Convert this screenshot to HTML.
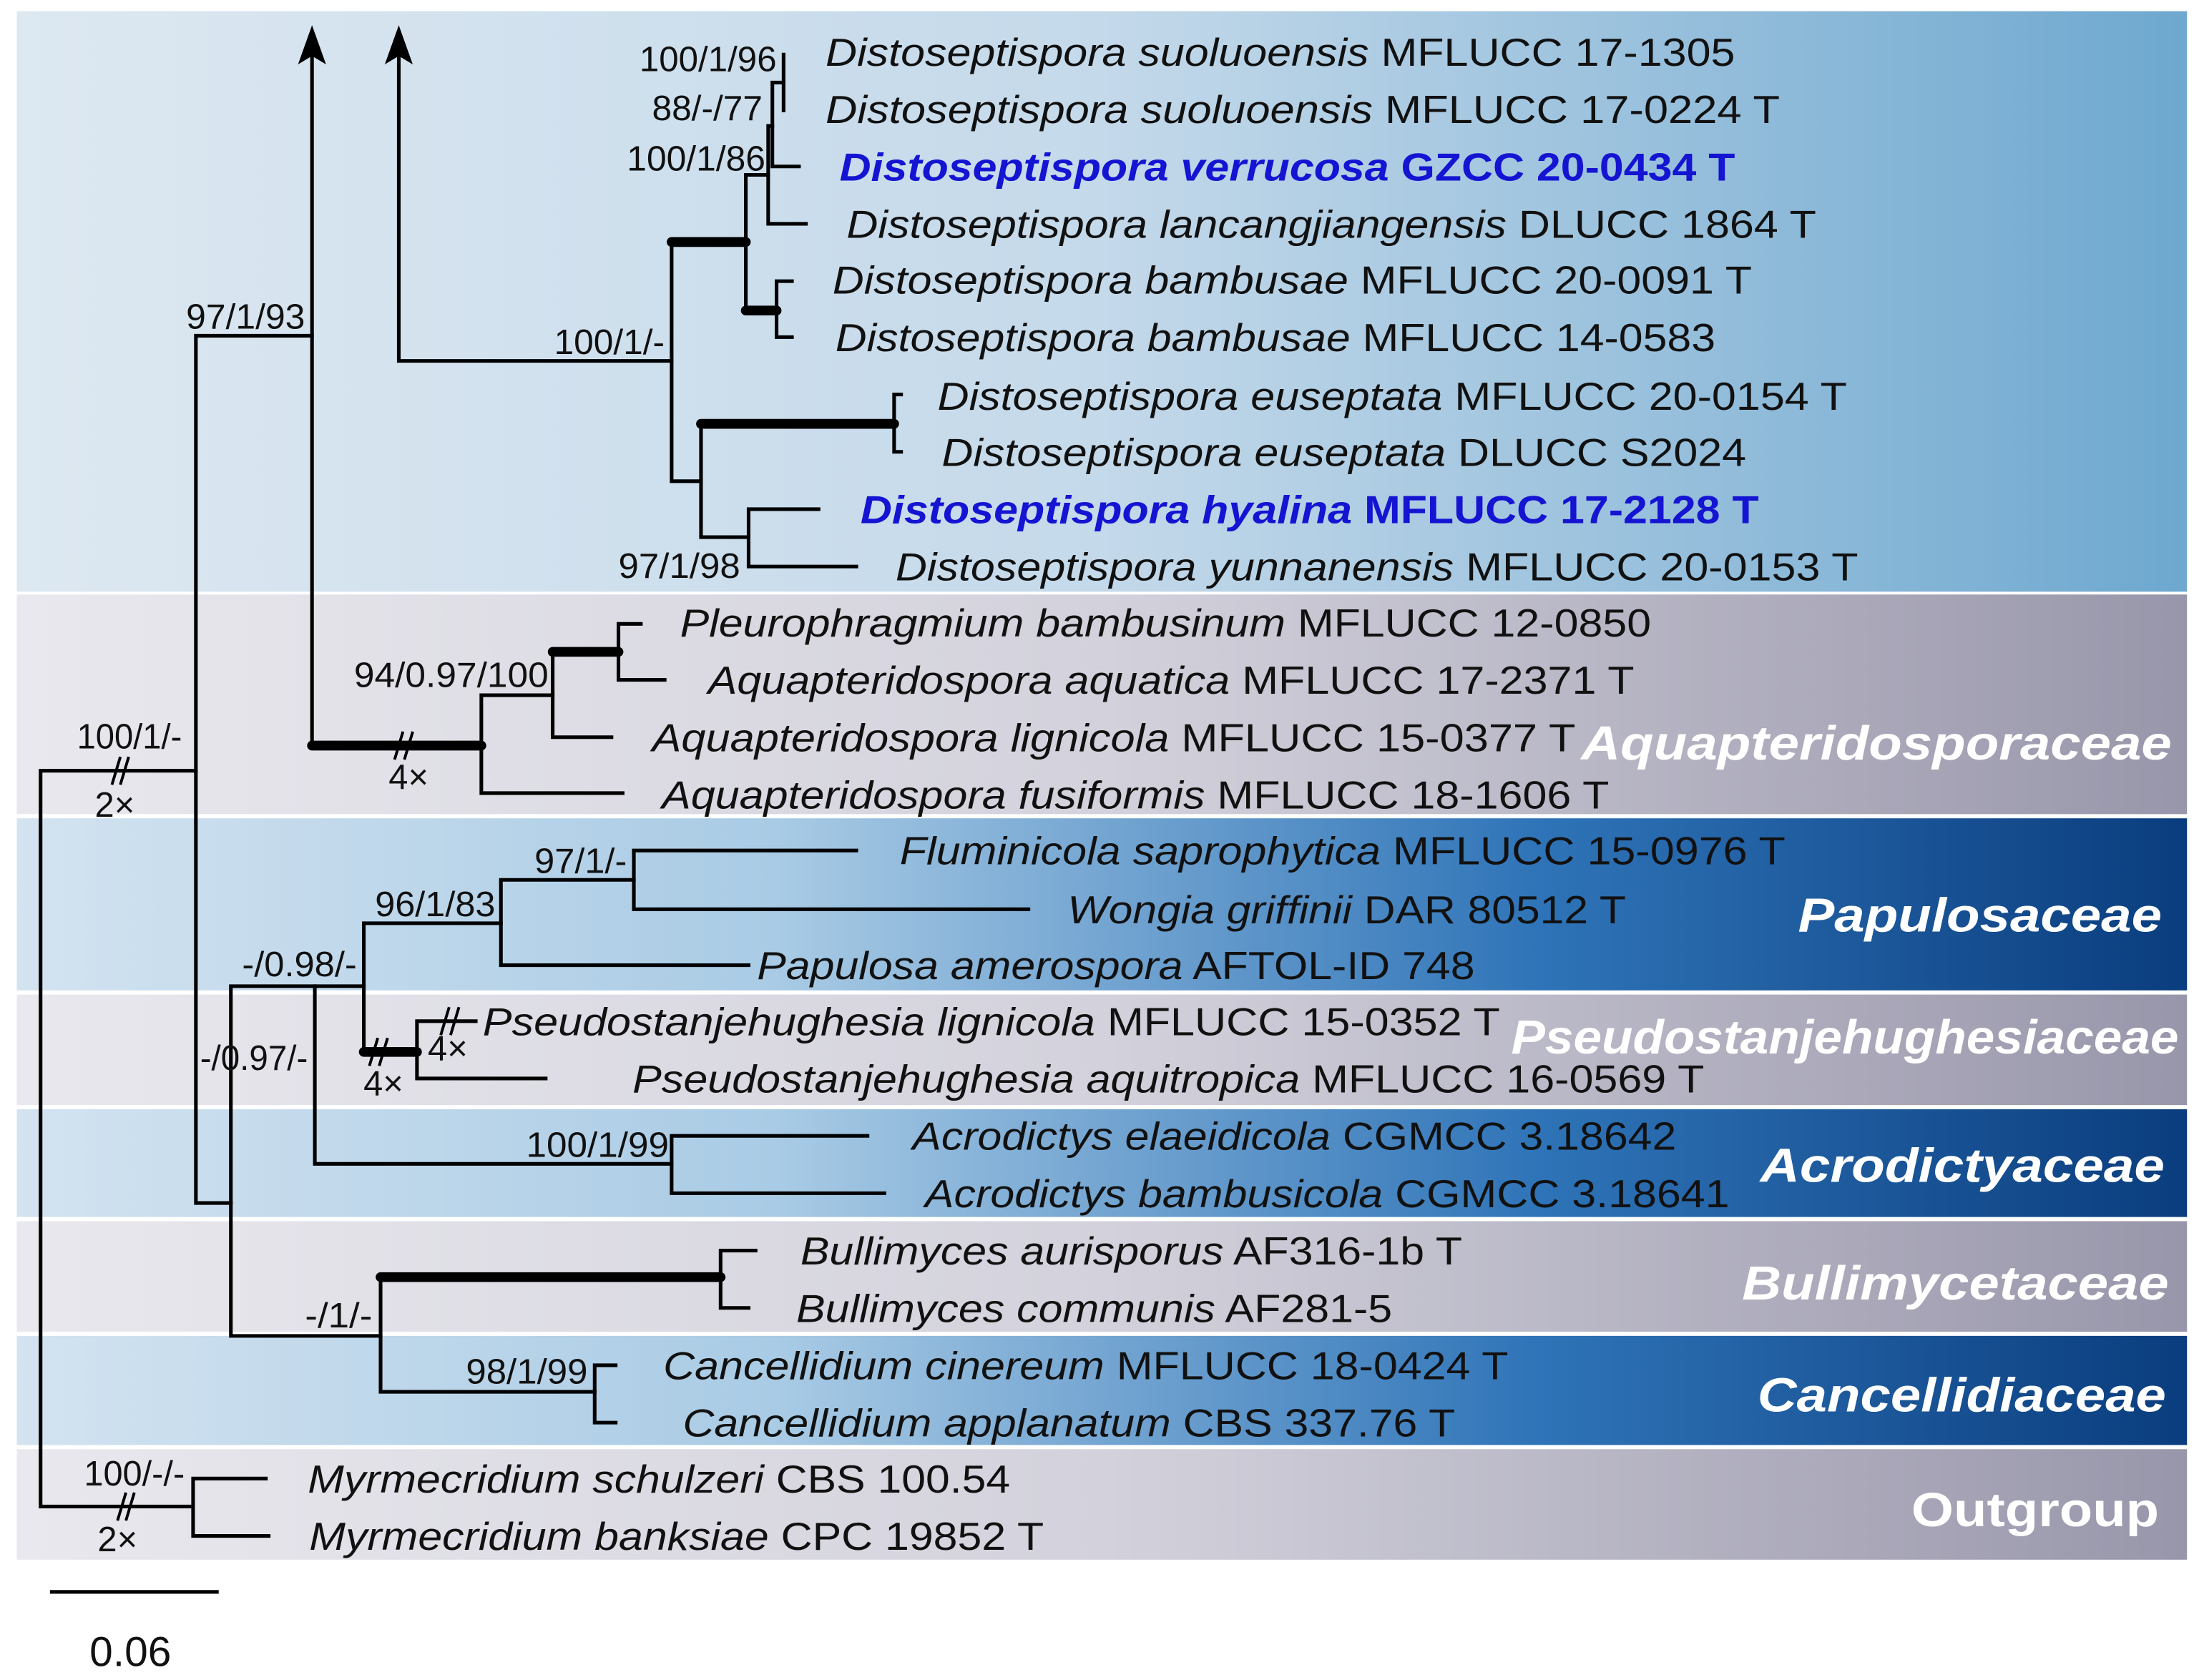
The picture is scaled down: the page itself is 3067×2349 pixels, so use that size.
<!DOCTYPE html>
<html><head><meta charset="utf-8"><style>
html,body{margin:0;padding:0;background:#fff;}
svg{display:block;}
text{font-family:"Liberation Sans",Arial,sans-serif;}
</style></head><body>
<svg width="3067" height="2349" viewBox="0 0 1568 1201" preserveAspectRatio="none" xmlns="http://www.w3.org/2000/svg">
<defs>
<linearGradient id="gL" x1="0" x2="1" y1="0" y2="0"><stop offset="0" stop-color="#dde8f1"/><stop offset="0.5" stop-color="#c4d9ea"/><stop offset="1" stop-color="#6ea8cf"/></linearGradient>
<linearGradient id="gG" x1="0" x2="1" y1="0" y2="0"><stop offset="0" stop-color="#e9e8ee"/><stop offset="0.5" stop-color="#d3d2dc"/><stop offset="1" stop-color="#9896aa"/></linearGradient>
<linearGradient id="gB" x1="0" x2="1" y1="0" y2="0"><stop offset="0" stop-color="#d3e3f0"/><stop offset="0.35" stop-color="#a9cbe5"/><stop offset="0.7" stop-color="#2f74b8"/><stop offset="1" stop-color="#0a3d7e"/></linearGradient>
</defs>
<rect x="12" y="8" width="1551" height="415" fill="url(#gL)"/>
<rect x="12" y="425" width="1551" height="157" fill="url(#gG)"/>
<rect x="12" y="585" width="1551" height="123" fill="url(#gB)"/>
<rect x="12" y="711" width="1551" height="79" fill="url(#gG)"/>
<rect x="12" y="793" width="1551" height="77" fill="url(#gB)"/>
<rect x="12" y="873" width="1551" height="79" fill="url(#gG)"/>
<rect x="12" y="955" width="1551" height="78" fill="url(#gB)"/>
<rect x="12" y="1036" width="1551" height="79" fill="url(#gG)"/>

<g stroke="#000" stroke-width="2.6" fill="none" stroke-linecap="square">
<path d="M29 551V1077M29 551H140M29 1077H138"/>
<path d="M138 1057V1098M138 1057H190M138 1098H192"/>
<path d="M140 240V860M140 240H223M140 860H165"/>
<path d="M223 533V34"/>
<path d="M344 497V567M344 497H395M344 567H445"/>
<path d="M395 466V527M395 527H437"/>
<path d="M442 446V486M442 446H458M442 486H475"/>
<path d="M285 258V34M285 258H480"/>
<path d="M480 173V344M480 344H501"/>
<path d="M533 125V222M533 125H549"/>
<path d="M549 90V160M549 90H552M549 160H576"/>
<path d="M552 59V119M552 59H560M552 119H571"/>
<path d="M560 39V79"/>
<path d="M555 201V241M555 201H566M555 241H566"/>
<path d="M501 303V384M501 384H535"/>
<path d="M639 282V323M639 282H644M639 323H644"/>
<path d="M535 364V405M535 364H585M535 405H612"/>
<path d="M165 705V955M165 705H225M165 955H272"/>
<path d="M225 705V832M225 705H260M225 832H480"/>
<path d="M480 812V853M480 812H620M480 853H632"/>
<path d="M260 660V752M260 660H358"/>
<path d="M358 629V690M358 629H453M358 690H535"/>
<path d="M453 608V650M453 608H612M453 650H735"/>
<path d="M298 730V771M298 730H340M298 771H390"/>
<path d="M272 913V995M272 995H425"/>
<path d="M515 894V935M515 894H540M515 935H535"/>
<path d="M425 976V1017M425 976H440M425 1017H440"/>
<path d="M37 1138H155"/>
</g>
<g stroke="#000" stroke-width="7" stroke-linecap="round" fill="none">
<path d="M223 533H344"/>
<path d="M395 466H442"/>
<path d="M480 173H533"/>
<path d="M533 222H555"/>
<path d="M501 303H639"/>
<path d="M260 752H298"/>
<path d="M272 913H515"/>
</g>
<path d="M223 18L213 46L223 40L233 46Z" fill="#000"/>
<path d="M285 18L275 46L285 40L295 46Z" fill="#000"/>
<g stroke="#000" stroke-width="2" fill="none">
<path d="M80 561L86 541M86 561L92 541"/>
<path d="M84 1087L90 1067M90 1087L96 1067"/>
<path d="M282 543L288 523M289 543L295 523"/>
<path d="M264 762L270 742M271 762L277 742"/>
<path d="M315 740L321 720M322 740L328 720"/>
</g>

<g font-size="25" fill="#111">
<text x="133" y="235" textLength="85" lengthAdjust="spacingAndGlyphs">97/1/93</text>
<text x="396" y="253" textLength="79" lengthAdjust="spacingAndGlyphs">100/1/-</text>
<text x="457" y="51" textLength="98" lengthAdjust="spacingAndGlyphs">100/1/96</text>
<text x="466" y="86" textLength="79" lengthAdjust="spacingAndGlyphs">88/-/77</text>
<text x="448" y="122" textLength="99" lengthAdjust="spacingAndGlyphs">100/1/86</text>
<text x="442" y="413" textLength="87" lengthAdjust="spacingAndGlyphs">97/1/98</text>
<text x="253" y="491" textLength="139" lengthAdjust="spacingAndGlyphs">94/0.97/100</text>
<text x="55" y="535" textLength="75" lengthAdjust="spacingAndGlyphs">100/1/-</text>
<text x="82" y="584" text-anchor="middle">2×</text>
<text x="292" y="564" text-anchor="middle">4×</text>
<text x="382" y="624" textLength="66" lengthAdjust="spacingAndGlyphs">97/1/-</text>
<text x="268" y="655" textLength="86" lengthAdjust="spacingAndGlyphs">96/1/83</text>
<text x="173" y="698" textLength="82" lengthAdjust="spacingAndGlyphs">-/0.98/-</text>
<text x="143" y="765" textLength="77" lengthAdjust="spacingAndGlyphs">-/0.97/-</text>
<text x="274" y="783" text-anchor="middle">4×</text>
<text x="320" y="758" text-anchor="middle">4×</text>
<text x="376" y="827" textLength="102" lengthAdjust="spacingAndGlyphs">100/1/99</text>
<text x="218" y="949" textLength="48" lengthAdjust="spacingAndGlyphs">-/1/-</text>
<text x="333" y="989" textLength="87" lengthAdjust="spacingAndGlyphs">98/1/99</text>
<text x="60" y="1062" textLength="72" lengthAdjust="spacingAndGlyphs">100/-/-</text>
<text x="84" y="1109" text-anchor="middle">2×</text>
</g>
<text x="64" y="1191" font-size="30" fill="#111">0.06</text>

<g font-size="28" fill="#111">
<text x="590" y="47" textLength="650" lengthAdjust="spacingAndGlyphs"><tspan font-style="italic">Distoseptispora suoluoensis</tspan> MFLUCC 17-1305</text>
<text x="590" y="88" textLength="682" lengthAdjust="spacingAndGlyphs"><tspan font-style="italic">Distoseptispora suoluoensis</tspan> MFLUCC 17-0224 T</text>
<text x="600" y="129" textLength="640" lengthAdjust="spacingAndGlyphs" fill="#1414d2" font-weight="bold"><tspan font-style="italic">Distoseptispora verrucosa</tspan> GZCC 20-0434 T</text>
<text x="605" y="170" textLength="693" lengthAdjust="spacingAndGlyphs"><tspan font-style="italic">Distoseptispora lancangjiangensis</tspan> DLUCC 1864 T</text>
<text x="595" y="210" textLength="657" lengthAdjust="spacingAndGlyphs"><tspan font-style="italic">Distoseptispora bambusae</tspan> MFLUCC 20-0091 T</text>
<text x="597" y="251" textLength="629" lengthAdjust="spacingAndGlyphs"><tspan font-style="italic">Distoseptispora bambusae</tspan> MFLUCC 14-0583</text>
<text x="670" y="293" textLength="650" lengthAdjust="spacingAndGlyphs"><tspan font-style="italic">Distoseptispora euseptata</tspan> MFLUCC 20-0154 T</text>
<text x="673" y="333" textLength="575" lengthAdjust="spacingAndGlyphs"><tspan font-style="italic">Distoseptispora euseptata</tspan> DLUCC S2024</text>
<text x="615" y="374" textLength="642" lengthAdjust="spacingAndGlyphs" fill="#1414d2" font-weight="bold"><tspan font-style="italic">Distoseptispora hyalina</tspan> MFLUCC 17-2128 T</text>
<text x="640" y="415" textLength="688" lengthAdjust="spacingAndGlyphs"><tspan font-style="italic">Distoseptispora yunnanensis</tspan> MFLUCC 20-0153 T</text>
<text x="486" y="455" textLength="694" lengthAdjust="spacingAndGlyphs"><tspan font-style="italic">Pleurophragmium bambusinum</tspan> MFLUCC 12-0850</text>
<text x="506" y="496" textLength="662" lengthAdjust="spacingAndGlyphs"><tspan font-style="italic">Aquapteridospora aquatica</tspan> MFLUCC 17-2371 T</text>
<text x="466" y="537" textLength="660" lengthAdjust="spacingAndGlyphs"><tspan font-style="italic">Aquapteridospora lignicola</tspan> MFLUCC 15-0377 T</text>
<text x="473" y="578" textLength="677" lengthAdjust="spacingAndGlyphs"><tspan font-style="italic">Aquapteridospora fusiformis</tspan> MFLUCC 18-1606 T</text>
<text x="643" y="618" textLength="633" lengthAdjust="spacingAndGlyphs"><tspan font-style="italic">Fluminicola saprophytica</tspan> MFLUCC 15-0976 T</text>
<text x="763" y="660" textLength="399" lengthAdjust="spacingAndGlyphs"><tspan font-style="italic">Wongia griffinii</tspan> DAR 80512 T</text>
<text x="541" y="700" textLength="513" lengthAdjust="spacingAndGlyphs"><tspan font-style="italic">Papulosa amerospora</tspan> AFTOL-ID 748</text>
<text x="345" y="740" textLength="727" lengthAdjust="spacingAndGlyphs"><tspan font-style="italic">Pseudostanjehughesia lignicola</tspan> MFLUCC 15-0352 T</text>
<text x="452" y="781" textLength="766" lengthAdjust="spacingAndGlyphs"><tspan font-style="italic">Pseudostanjehughesia aquitropica</tspan> MFLUCC 16-0569 T</text>
<text x="652" y="822" textLength="546" lengthAdjust="spacingAndGlyphs"><tspan font-style="italic">Acrodictys elaeidicola</tspan> CGMCC 3.18642</text>
<text x="661" y="863" textLength="575" lengthAdjust="spacingAndGlyphs"><tspan font-style="italic">Acrodictys bambusicola</tspan> CGMCC 3.18641</text>
<text x="572" y="904" textLength="473" lengthAdjust="spacingAndGlyphs"><tspan font-style="italic">Bullimyces aurisporus</tspan> AF316-1b T</text>
<text x="569" y="945" textLength="426" lengthAdjust="spacingAndGlyphs"><tspan font-style="italic">Bullimyces communis</tspan> AF281-5</text>
<text x="474" y="986" textLength="604" lengthAdjust="spacingAndGlyphs"><tspan font-style="italic">Cancellidium cinereum</tspan> MFLUCC 18-0424 T</text>
<text x="488" y="1027" textLength="552" lengthAdjust="spacingAndGlyphs"><tspan font-style="italic">Cancellidium applanatum</tspan> CBS 337.76 T</text>
<text x="220" y="1067" textLength="502" lengthAdjust="spacingAndGlyphs"><tspan font-style="italic">Myrmecridium schulzeri</tspan> CBS 100.54</text>
<text x="221" y="1108" textLength="525" lengthAdjust="spacingAndGlyphs"><tspan font-style="italic">Myrmecridium banksiae</tspan> CPC 19852 T</text>
</g>

<g font-size="34" fill="#fff" font-weight="bold">
<text x="1130" y="543" textLength="422" lengthAdjust="spacingAndGlyphs" font-style="italic">Aquapteridosporaceae</text>
<text x="1285" y="666" textLength="260" lengthAdjust="spacingAndGlyphs" font-style="italic">Papulosaceae</text>
<text x="1080" y="753" textLength="477" lengthAdjust="spacingAndGlyphs" font-style="italic">Pseudostanjehughesiaceae</text>
<text x="1258" y="845" textLength="289" lengthAdjust="spacingAndGlyphs" font-style="italic">Acrodictyaceae</text>
<text x="1245" y="929" textLength="305" lengthAdjust="spacingAndGlyphs" font-style="italic">Bullimycetaceae</text>
<text x="1256" y="1009" textLength="292" lengthAdjust="spacingAndGlyphs" font-style="italic">Cancellidiaceae</text>
<text x="1366" y="1091" textLength="177" lengthAdjust="spacingAndGlyphs">Outgroup</text>
</g>
</svg>
</body></html>
